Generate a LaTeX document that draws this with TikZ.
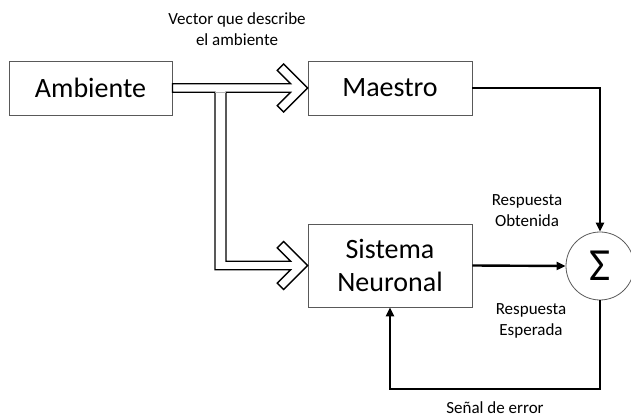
\documentclass[tikz,border=0pt]{standalone}
\usepackage{fontspec}
\setmainfont{Carlito}
\usetikzlibrary{arrows.meta,calc}
\begin{document}
\begin{tikzpicture}[x=1pt,y=-1pt,
  blk/.style={draw=black!65,line width=0.8pt,fill=white,inner sep=0pt,font=\fontsize{28}{33}\selectfont,align=center},
  lbl/.style={font=\fontsize{17}{21}\selectfont,align=center,inner sep=0pt},
  conn/.style={line width=2.4pt,-{Triangle[length=9pt,width=8pt]}},
  hollow/.style={draw=black,line width=1.3pt,fill=white,line join=miter}
]
\useasboundingbox (0,0) rectangle (631,419);
\def\hh{4.25}
\node[blk,minimum width=163pt,minimum height=54pt] (amb) at (90.5,88) {Ambiente};
\node[blk,minimum width=164pt,minimum height=54pt] (mae) at (390,88) {Maestro};
\node[blk,minimum width=164pt,minimum height=83pt] (sis) at (390,265.5) {Sistema\\Neuronal};
\node[draw=black!65,line width=0.8pt,circle,minimum size=68pt,inner sep=0pt,font=\fontsize{46}{46}\selectfont] (sum) at (600,266) {Σ};
\coordinate (br) at (220.5,88);
\draw[hollow]
  ($(amb.east)+(0,-\hh)$) --
  ($(mae.west)+(-16.97,-\hh)$) --
  ($(mae.west)+(-30.36,-17.64)$) --
  ($(mae.west)+(-24,-24)$) --
  (mae.west) --
  ($(mae.west)+(-24,24)$) --
  ($(mae.west)+(-30.36,17.64)$) --
  ($(mae.west)+(-16.97,\hh)$) --
  ($(br)+(5.5,\hh)$) --
  ($(br |- sis.west)+(5.5,-\hh)$) --
  ($(sis.west)+(-16.97,-\hh)$) --
  ($(sis.west)+(-30.36,-17.64)$) --
  ($(sis.west)+(-24,-24)$) --
  (sis.west) --
  ($(sis.west)+(-24,24)$) --
  ($(sis.west)+(-30.36,17.64)$) --
  ($(sis.west)+(-16.97,\hh)$) --
  ($(br |- sis.west)+(-5.5,\hh)$) --
  ($(br)+(-5.5,\hh)$) --
  ($(amb.east)+(0,\hh)$) -- cycle;
\draw[black!30,line width=0.6pt] ($(br)+(-5.5,\hh)$) -- ($(br)+(5.5,\hh)$);
\coordinate (fb) at (600,389);
\draw[conn] (mae.east) -| (sum.north);
\draw[conn] (sis.east) -- (sum.west);
\draw[conn] (sum.south) -- (fb) -| (sis.south);
\node[lbl] (vec) at (237,29) {Vector que describe\\el ambiente};
\node[lbl] (obt) at (527,211) {Respuesta\\Obtenida};
\node[lbl] (esp) at (531,321) {Respuesta\\Esperada};
\node[lbl] (err) at (495,408) {Señal de error};
\end{tikzpicture}
\end{document}
